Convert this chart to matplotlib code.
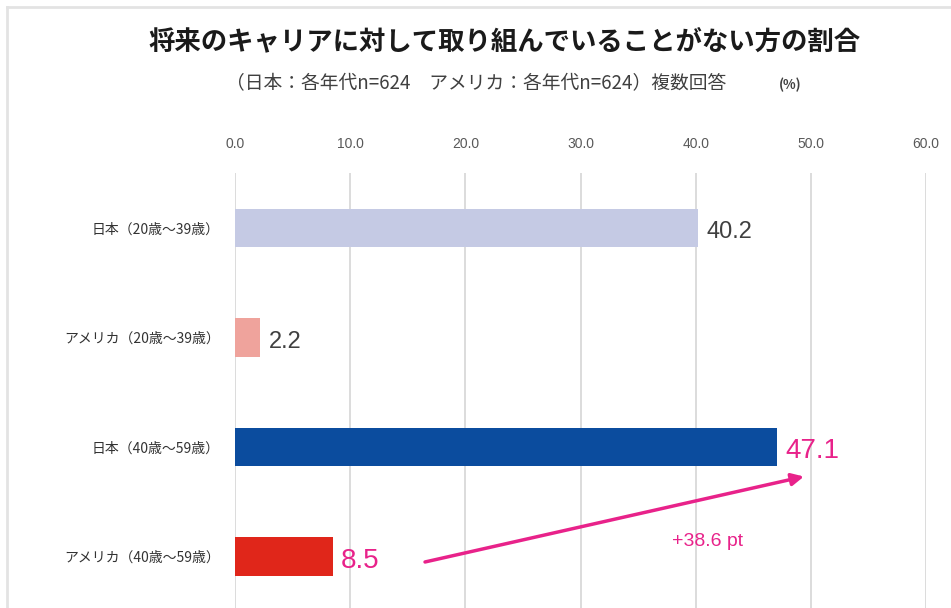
import matplotlib
matplotlib.use("Agg")
import matplotlib.pyplot as plt
from matplotlib.lines import Line2D

plt.rcParams['font.family'] = ['Noto Sans CJK JP', 'DejaVu Sans']

# data
categories = ['日本（20歳～39歳）', 'アメリカ（20歳～39歳）', '日本（40歳～59歳）', 'アメリカ（40歳～59歳）']
values = [40.2, 2.2, 47.1, 8.5]
bar_colors = ['#C5CAE4', '#EFA39C', '#0B4C9E', '#E0261A']
label_colors = ['#404040', '#404040', '#E8228A', '#E8228A']
label_sizes = [17, 17, 20, 20]
xticks = [0, 10, 20, 30, 40, 50, 60]
diff_text = '+38.6 pt'

magenta = '#E8228A'

fig = plt.figure(figsize=(9.51, 6.08), dpi=100)
ax = fig.add_axes([235 / 951, 0, (926 - 235) / 951, 1 - 173 / 608])

ypos = list(range(len(categories)))
ax.barh(ypos, values, height=0.35, color=bar_colors, zorder=3)

ax.set_xlim(0, 60)
ax.set_ylim(3.47, -0.5)
ax.set_xticks(xticks)
ax.set_xticklabels([f'{t:.1f}' for t in xticks], family=['Liberation Sans'],
                   fontsize=10, color='#595959')
ax.xaxis.tick_top()
ax.tick_params(axis='x', length=0, pad=16)
ax.set_yticks(ypos)
ax.set_yticklabels(categories, fontsize=10, color='#333333')
ax.tick_params(axis='y', length=0, pad=11)
ax.grid(axis='x', color='#D9D9D9', linewidth=1.3, zorder=0)
for s in ax.spines.values():
    s.set_visible(False)

# value labels (sit a little below bar centre, as in the original)
for y, v, c, fs in zip(ypos, values, label_colors, label_sizes):
    ax.annotate(f'{v:.1f}', xy=(v, y), xytext=(6, -3), textcoords='offset points',
                ha='left', va='center', fontsize=fs, color=c,
                family=['Liberation Sans'])

# difference arrow
ax.annotate('', xy=(49.4, 2.27), xytext=(16.5, 3.05),
            arrowprops=dict(arrowstyle='-|>', color=magenta, lw=2.5,
                            mutation_scale=18, shrinkA=0, shrinkB=0))
ax.text(41.0, 2.86, diff_text, color=magenta, fontsize=14, ha='center',
        va='center', family=['Liberation Sans'])

# title
fig.text(505 / 951, 1 - 42 / 608, '将来のキャリアに対して取り組んでいることがない方の割合',
         ha='center', va='center', fontsize=19, fontweight='bold', color='#1A1A1A')
fig.text(476 / 951, 1 - 84 / 608, '（日本：各年代n=624　アメリカ：各年代n=624）複数回答',
         ha='center', va='center', fontsize=13.5, color='#404040')
fig.text(790 / 951, 1 - 85 / 608, '(%)', ha='center', va='center', fontsize=9.5,
         fontweight='bold', color='#404040')

# frame
fig.add_artist(Line2D([7 / 951, 1], [1 - 7 / 608, 1 - 7 / 608], color='#E3E3E3', lw=2))
fig.add_artist(Line2D([7 / 951, 7 / 951], [0, 1 - 7 / 608], color='#E3E3E3', lw=2))

fig.savefig('out.png', dpi=100)
